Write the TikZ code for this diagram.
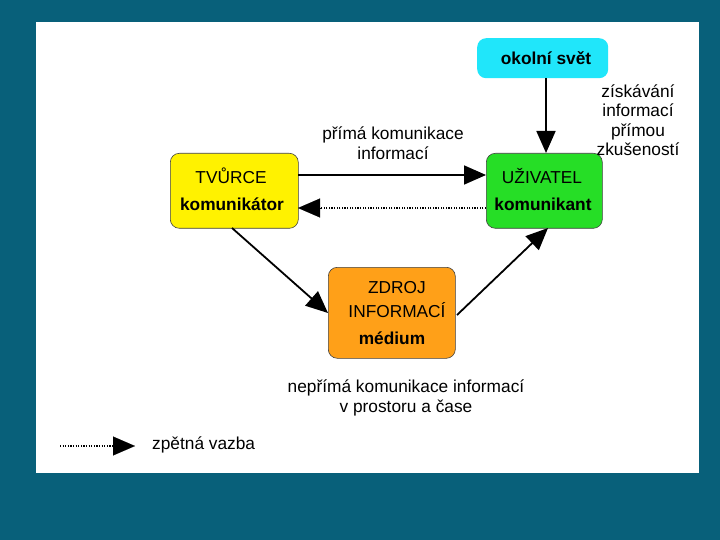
\documentclass[tikz,border=0pt]{standalone}
\usepackage{fontspec}
\setmainfont{Liberation Sans}
\usetikzlibrary{arrows.meta}
\definecolor{bgteal}{RGB}{8,96,122}
\definecolor{boxyellow}{RGB}{255,242,0}
\definecolor{boxgreen}{RGB}{38,222,38}
\definecolor{boxorange}{RGB}{255,160,24}
\definecolor{boxcyan}{RGB}{32,230,250}
\begin{document}
\begin{tikzpicture}[x=1pt,y=-1pt,
  box/.style={draw=black!75,line width=0.6pt,rounded corners=9pt},
  lbl/.style={font=\fontsize{17.3}{19.5}\selectfont,align=center,inner sep=0pt},
  blbl/.style={font=\fontsize{17.3}{19.5}\selectfont\bfseries,inner sep=0pt},
  conn/.style={line width=1.8pt,-{Triangle[length=22pt,width=19pt]}},
  fb/.style={line width=1.3pt,dash pattern=on 1.2pt off 1.4pt},
  tip/.style={-{Triangle[length=22pt,width=19pt]}}
]
\useasboundingbox (0,0) rectangle (720,540);
\fill[bgteal] (0,0) rectangle (720,540);
\fill[white] (36,22) rectangle (699,473);

% boxes
\node[box,fill=boxyellow,minimum width=128pt,minimum height=75pt,anchor=north west] (tv) at (170,153) {};
\node[box,fill=boxgreen,minimum width=116pt,minimum height=75pt,anchor=north west] (uz) at (486,153) {};
\node[box,fill=boxorange,minimum width=127pt,minimum height=91pt,anchor=north west] (zd) at (328,267) {};
\node[rounded corners=9pt,fill=boxcyan,minimum width=131pt,minimum height=40pt,anchor=north west] (ok) at (477,38) {};

% box texts
\node[lbl] (tv1) at (231,176) {TVŮRCE};
\node[blbl] (tv2) at (232,204) {komunikátor};
\node[lbl] (uz1) at (542,176) {UŽIVATEL};
\node[blbl] (uz2) at (543,204) {komunikant};
\node[lbl] (zd1) at (397,288) {ZDROJ};
\node[lbl] (zd2) at (397,310) {INFORMACÍ};
\node[blbl] (zd3) at (392,338) {médium};
\node[blbl] (ok1) at (546,58) {okolní svět};

% labels
\node[lbl] (lz) at (638,120) {získávání\\informací\\přímou\\zkušeností};
\node[lbl] (lp) at (393,143) {přímá komunikace\\informací};
\node[lbl] (ln) at (406,398) {nepřímá komunikace informací\\v prostoru a čase};
\node[lbl,anchor=west] (lzv) at (152,445) {zpětná vazba};

% connectors
\coordinate (tvR) at (298,175);
\coordinate (uzL) at (486,175);
\draw[conn] (tvR) -- (uzL);
\coordinate (uzLd) at (486,208);
\coordinate (tvRd) at (298,208);
\draw[fb] (uzLd) -- (320,208);
\draw[tip,line width=0.1pt,fill=black] (320,208) -- (tvRd);
\coordinate (okB) at (546,78);
\coordinate (uzT) at (546,153);
\draw[conn] (okB) -- (uzT);
\coordinate (tvB) at (232,228);
\coordinate (zdL) at (328,313);
\draw[conn] (tvB) -- (zdL);
\coordinate (zdR) at (457,315);
\coordinate (uzB) at (548,228);
\draw[conn] (zdR) -- (uzB);

% legend
\coordinate (lg1) at (60,446);
\coordinate (lg2) at (113,446);
\coordinate (lg3) at (135,446);
\draw[fb] (lg1) -- (lg2);
\draw[tip,line width=0.1pt] (lg2) -- (lg3);
\end{tikzpicture}
\end{document}
